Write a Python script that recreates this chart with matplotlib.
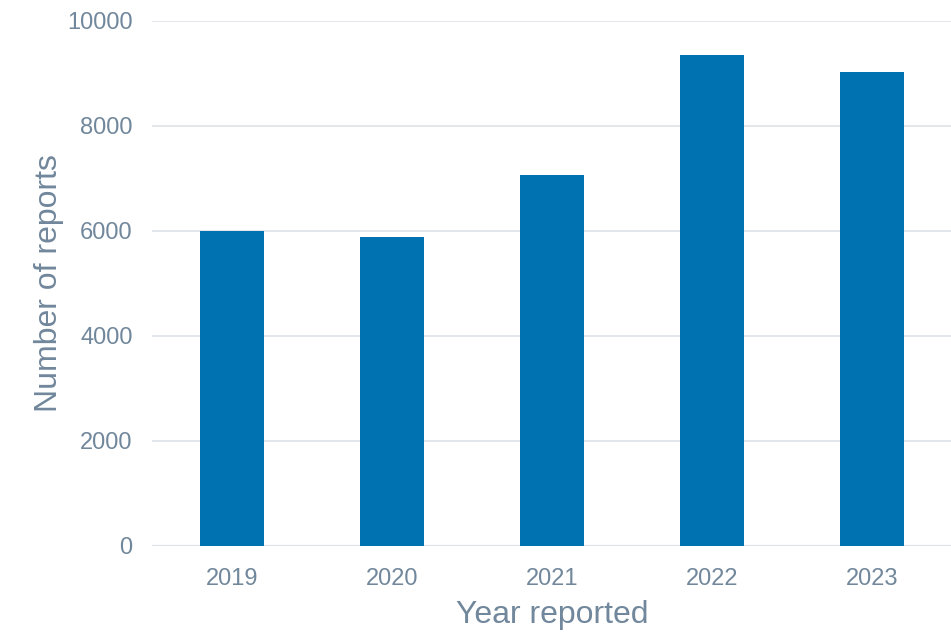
import matplotlib.pyplot as plt

# datos
years = ['2019', '2020', '2021', '2022', '2023']
reports = [5985, 5885, 7065, 9335, 9020]
y_ticks = [0, 2000, 4000, 6000, 8000, 10000]

text_col = '#71879b'
bar_col = '#0072b2'
grid_col = '#e1e5ea'

plt.rcParams['font.family'] = ['Liberation Sans', 'DejaVu Sans']

fig = plt.figure(figsize=(9.51, 6.32), dpi=100)
ax = fig.add_axes([152 / 951, 1 - 545.7 / 632, 800 / 951, (545.7 - 20.5) / 632])

ax.bar(range(len(years)), reports, width=0.4, color=bar_col, zorder=3)

ax.set_xlim(-0.5, len(years) - 0.5)
ax.set_ylim(0, 10000)
ax.set_yticks(y_ticks)
ax.set_yticklabels([str(t) for t in y_ticks])
ax.set_xticks(range(len(years)))
ax.set_xticklabels(years)

ax.grid(axis='y', color=grid_col, lw=1.3, zorder=0)
for s in ax.spines.values():
    s.set_visible(False)
ax.axhline(0, color='#dde2e8', lw=1.6, zorder=2)

ax.tick_params(axis='both', length=0, labelsize=17, colors=text_col)
ax.tick_params(axis='y', pad=14)
ax.tick_params(axis='x', pad=16)

ax.set_xlabel('Year reported', fontsize=23, color=text_col, labelpad=7)
ax.set_ylabel('Number of reports', fontsize=23, color=text_col, labelpad=2)

fig.savefig('out.png', dpi=100)
